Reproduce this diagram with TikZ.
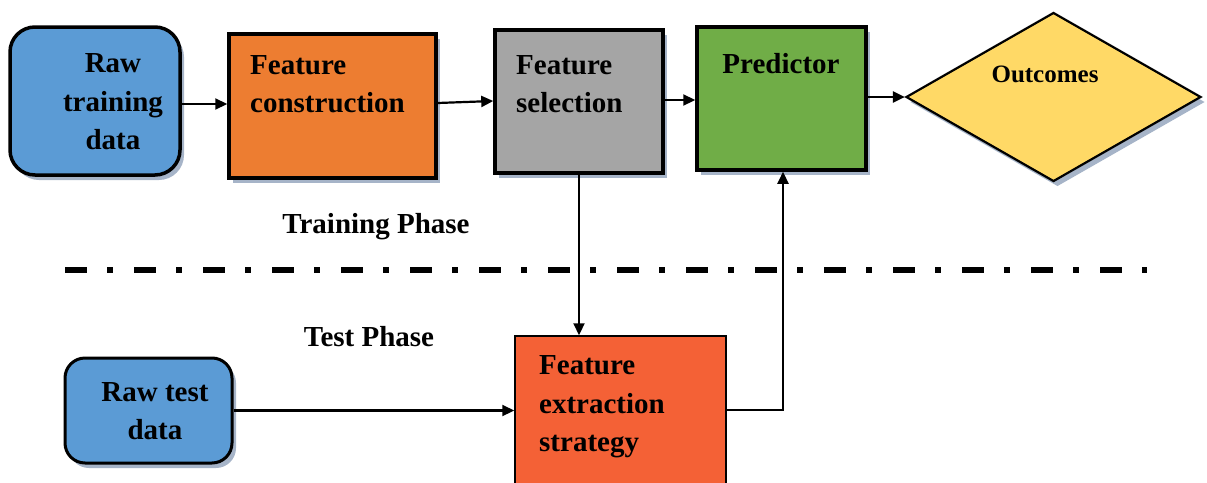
\documentclass[tikz,border=0pt]{standalone}
\usepackage{fontspec}
\setmainfont{Liberation Serif}
\usetikzlibrary{shapes.geometric,shadows,arrows.meta}
\definecolor{cblue}{HTML}{5B9BD5}
\definecolor{corange}{HTML}{ED7D31}
\definecolor{cgray}{HTML}{A5A5A5}
\definecolor{cgreen}{HTML}{70AD47}
\definecolor{cyellow}{HTML}{FFD966}
\definecolor{cred}{HTML}{F46136}
\definecolor{cshadow}{HTML}{A6B4C8}
\tikzset{
  shad/.style={drop shadow={shadow xshift=4pt,shadow yshift=-5pt,fill=cshadow,opacity=1}},
  boxx/.style={draw=black,line width=3.5pt,inner sep=0pt,shad},
  lbl/.style={font=\fontsize{29}{38.5}\selectfont\bfseries,inner sep=0pt},
  conn/.style={line width=2.2pt,-{Triangle[length=12pt,width=11pt]}},
}
\begin{document}
\begin{tikzpicture}[x=1pt,y=-1pt]
\useasboundingbox (0,0) rectangle (1207,482);
% boxes
\node[boxx,fill=cblue,rounded corners=25pt,minimum width=170pt,minimum height=148pt] (rtd) at (95,101) {};
\node[boxx,fill=corange,minimum width=207pt,minimum height=144pt] (fc) at (332.5,106) {};
\node[boxx,fill=cgray,minimum width=168pt,minimum height=143pt] (fs) at (579,101.5) {};
\node[boxx,fill=cgreen,minimum width=169pt,minimum height=143pt] (pr) at (781.5,98.5) {};
\node[draw=black,line width=2.2pt,fill=cyellow,diamond,inner sep=0pt,minimum width=295pt,minimum height=169pt,shad] (oc) at (1053.5,97) {};
\node[boxx,line width=3pt,fill=cblue,rounded corners=20pt,minimum width=167pt,minimum height=105pt] (rte) at (148.5,410.5) {};
\node[draw=black,line width=1.5pt,fill=cred,inner sep=0pt,minimum width=211pt,minimum height=160pt] (fe) at (620.5,416) {};
% texts
\node[lbl,align=center] (trtd) at (113,102) {Raw\\training\\data};
\node[lbl,align=left,anchor=west] (tfc) at (250,84) {Feature\\construction};
\node[lbl,align=left,anchor=west] (tfs) at (516,84) {Feature\\selection};
\node[lbl] (tpr) at (781,64) {Predictor};
\node[lbl,font=\fontsize{25}{30}\selectfont\bfseries] (toc) at (1045,74) {Outcomes};
\node[lbl,align=center] (trte) at (155,411) {Raw test\\data};
\node[lbl,align=left,anchor=west] (tfe) at (539,407) {Feature\\extraction\\strategy};
\node[lbl] (ttr) at (376,227) {Training Phase};
\node[lbl] (tte) at (369,337) {Test Phase};
% phase separator
\coordinate (s1) at (65,270);
\coordinate (s2) at (1147,270);
\draw[line width=6pt,dash pattern=on 22pt off 20pt on 6pt off 21pt] (s1) -- (s2);
% connectors
\draw[conn] (rtd.east |- 0,104) -- (fc.west |- 0,104);
\draw[conn] (fc.east |- 0,103) -- (fs.west |- 0,101);
\draw[conn] (fs.east |- 0,100) -- (pr.west |- 0,100);
\draw[conn] (pr.east |- oc.west) -- (oc.west);
\draw[conn] (fs.south) -- (fe.north -| fs.south);
\draw[conn] (rte.east) -- (fe.west |- rte.east);
\coordinate (k) at (783,410);
\draw[conn] (fe.east |- k) -- (k) -- (pr.south -| k);
\end{tikzpicture}
\end{document}
